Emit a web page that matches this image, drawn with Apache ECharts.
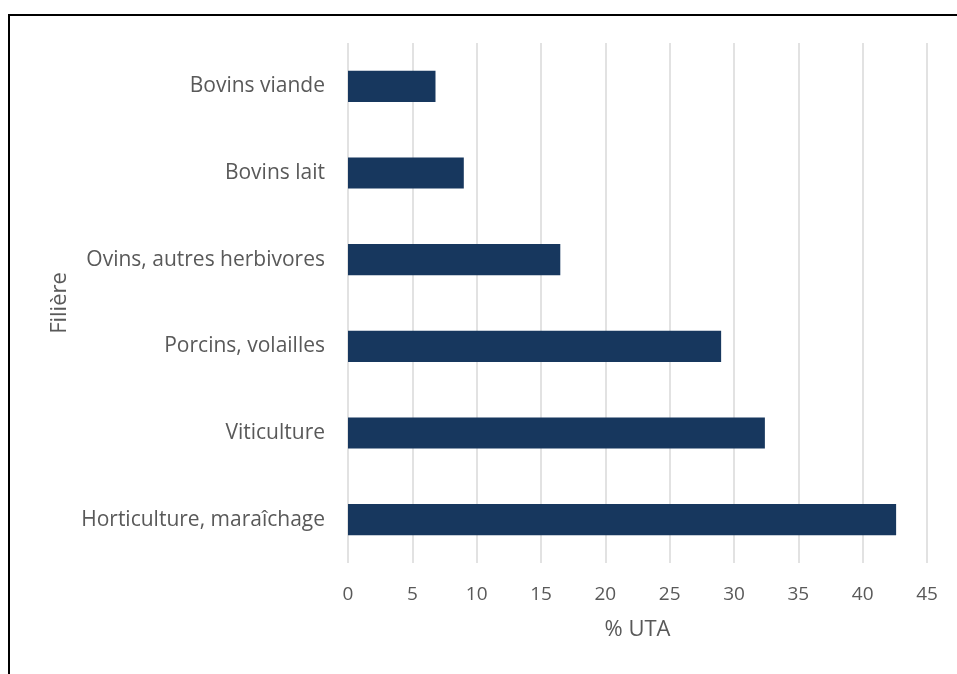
<!DOCTYPE html>
<html>
<head>
<meta charset="utf-8">
<script src="https://cdn.jsdelivr.net/npm/echarts@6/dist/echarts.min.js"></script>
<style>
html,body{margin:0;padding:0;background:#fff;}
#frame{position:absolute;left:8px;top:14px;width:960px;height:700px;border-left:2px solid #000;border-top:2px solid #000;box-sizing:border-box;}
#chart{position:absolute;left:0;top:0;width:957px;height:674px;}
</style>
</head>
<body>
<div id="frame"></div>
<div id="chart"></div>
<script>
const categories = ["Bovins viande", "Bovins lait", "Ovins, autres herbivores", "Porcins, volailles", "Viticulture", "Horticulture, maraîchage"];
const values = [6.8, 9.0, 16.5, 29.0, 32.4, 42.6];
const xTicks = [0, 5, 10, 15, 20, 25, 30, 35, 40, 45];

const chart = echarts.init(document.getElementById('chart'), null, {renderer: 'canvas'});
const font = '"Open Sans", "Noto Sans", sans-serif';
chart.setOption({
  backgroundColor: 'transparent',
  animation: false,
  grid: {left: 348, right: 30, top: 43, bottom: 111, containLabel: false},
  xAxis: {
    type: 'value',
    min: xTicks[0],
    max: xTicks[xTicks.length - 1],
    interval: 5,
    name: '% UTA',
    nameLocation: 'middle',
    nameGap: 56,
    nameTextStyle: {color: '#595959', fontSize: 22, fontFamily: font},
    axisLine: {show: false},
    axisTick: {show: false},
    axisLabel: {color: '#595959', fontSize: 19, fontFamily: font, margin: 22},
    splitLine: {show: true, lineStyle: {color: '#d9d9d9', width: 1.5}}
  },
  yAxis: {
    type: 'category',
    data: categories,
    inverse: true,
    name: 'Filière',
    nameLocation: 'middle',
    nameGap: 274,
    nameRotate: 90,
    nameTextStyle: {color: '#595959', fontSize: 22, fontFamily: font},
    axisLine: {show: false},
    axisTick: {show: false},
    axisLabel: {color: '#595959', fontSize: 21, fontFamily: font, margin: 23},
    splitLine: {show: false}
  },
  series: [{
    type: 'bar',
    data: values,
    barWidth: '36%',
    itemStyle: {color: '#17375e'}
  }]
});
</script>
</body>
</html>
